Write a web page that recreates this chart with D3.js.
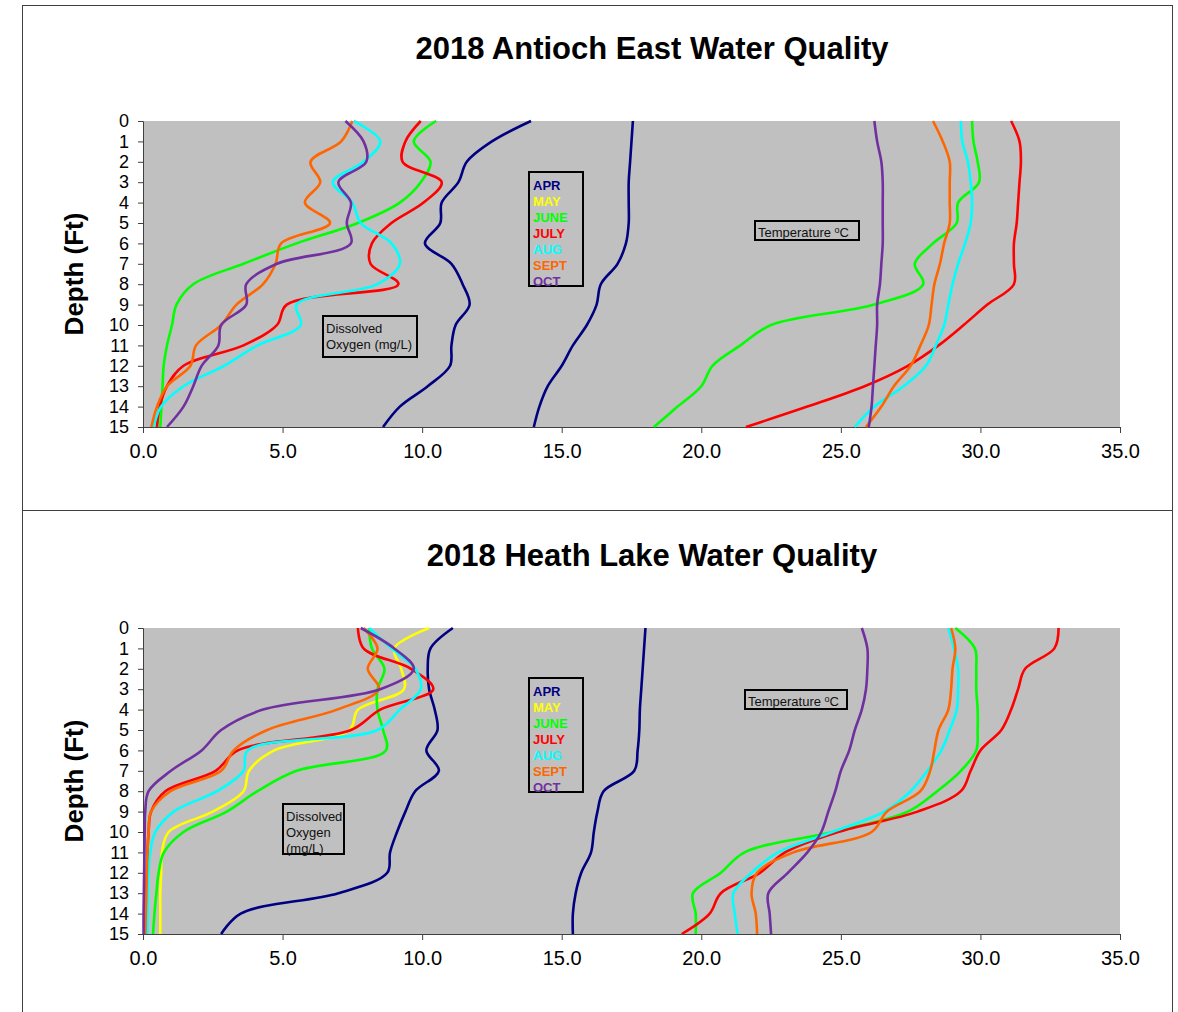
<!DOCTYPE html>
<html>
<head>
<meta charset="utf-8">
<script src="https://cdn.jsdelivr.net/npm/d3@7"></script>
<style>
  body { margin: 0; background: #fff; }
  text { font-family: "Liberation Sans", Arial, sans-serif; }
</style>
</head>
<body>
<div id="chart"></div>
<script>
const depths = [0, 1, 2, 3, 4, 5, 6, 7, 8, 9, 10, 11, 12, 13, 14, 15];
const months = ["APR", "MAY", "JUNE", "JULY", "AUG", "SEPT", "OCT"];
const monthColors = ["#000080", "#FFFF00", "#00FF00", "#FF0000", "#00FFFF", "#FF6600", "#7030A0"];
const xTicks = [0, 5, 10, 15, 20, 25, 30, 35];

// Antioch East - dissolved oxygen (mg/L), depth 0..15 ft
const eastDoApr  = [13.9, 12.5, 11.6, 11.3, 10.7, 10.65, 10.1, 11.05, 11.45, 11.7, 11.2, 11.05, 11.0, 10.2, 9.2, 8.6];
const eastDoJune = [10.5, 9.7, 10.3, 9.95, 9.2, 7.7, 5.5, 3.6, 1.8, 1.2, 1.04, 0.86, 0.74, 0.7, 0.66, 0.62];
const eastDoJuly = [9.95, 9.4, 9.3, 10.7, 10.05, 8.9, 8.2, 8.15, 9.15, 5.15, 4.8, 3.6, 1.45, 0.86, 0.6, 0.5];
const eastDoAug  = [7.55, 8.5, 7.9, 6.8, 7.5, 7.8, 8.9, 9.2, 8.4, 5.5, 5.65, 4.1, 2.9, 1.45, 0.65, 0.38];
const eastDoSept = [7.5, 7.1, 6.0, 6.35, 5.8, 6.7, 4.95, 4.75, 4.3, 3.35, 2.8, 1.9, 1.7, 0.86, 0.5, 0.3];
const eastDoOct  = [7.25, 7.9, 8.0, 7.0, 7.45, 7.3, 7.45, 4.8, 3.7, 3.7, 2.8, 2.7, 2.1, 1.8, 1.45, 0.86];

// Antioch East - temperature (C)
const eastTApr  = [17.55, 17.5, 17.45, 17.4, 17.4, 17.4, 17.3, 17.0, 16.4, 16.25, 15.9, 15.4, 15.0, 14.5, 14.2, 14.0];
const eastTJune = [29.7, 29.75, 29.9, 29.95, 29.2, 29.15, 28.3, 27.65, 27.95, 26.2, 22.5, 21.4, 20.4, 20.0, 19.15, 18.3];
const eastTJuly = [31.1, 31.4, 31.45, 31.4, 31.35, 31.3, 31.2, 31.2, 31.2, 30.25, 29.4, 28.5, 27.4, 25.85, 23.8, 21.6];
const eastTAug  = [29.3, 29.35, 29.55, 29.65, 29.7, 29.65, 29.45, 29.2, 29.0, 28.85, 28.7, 28.4, 28.05, 27.25, 26.2, 25.5];
const eastTSept = [28.3, 28.65, 28.9, 28.9, 28.9, 28.9, 28.7, 28.55, 28.35, 28.25, 28.15, 27.85, 27.5, 26.9, 26.45, 25.9];
const eastTOct  = [26.2, 26.3, 26.45, 26.5, 26.5, 26.5, 26.5, 26.45, 26.4, 26.3, 26.3, 26.25, 26.2, 26.15, 26.1, 26.0];

// Heath Lake - dissolved oxygen (mg/L)
const heathDoApr  = [11.1, 10.3, 10.2, 10.25, 10.45, 10.55, 10.15, 10.6, 9.75, 9.4, 9.1, 8.85, 8.75, 7.0, 3.5, 2.8];
const heathDoMay  = [10.25, 9.0, 9.25, 9.35, 7.7, 7.4, 4.7, 3.8, 3.6, 2.5, 0.92, 0.68, 0.65, 0.62, 0.62, 0.62];
const heathDoJune = [8.1, 8.2, 8.65, 8.4, 8.4, 8.6, 8.7, 5.5, 4.1, 3.0, 1.45, 0.75, 0.56, 0.48, 0.41, 0.36];
const heathDoJuly = [7.7, 7.9, 9.6, 10.4, 8.5, 7.45, 3.4, 2.6, 0.8, 0.29, 0.2, 0.16, 0.14, 0.12, 0.1, 0.08];
const heathDoAug  = [8.1, 8.9, 9.75, 9.95, 9.2, 8.4, 3.75, 3.6, 2.65, 1.1, 0.44, 0.26, 0.2, 0.18, 0.17, 0.16];
const heathDoSept = [7.9, 8.4, 8.05, 8.45, 6.95, 4.45, 3.25, 2.8, 0.98, 0.29, 0.2, 0.16, 0.14, 0.12, 0.1, 0.08];
const heathDoOct  = [7.8, 9.0, 9.7, 8.5, 4.3, 2.8, 2.1, 1.0, 0.2, 0.08, 0.06, 0.05, 0.04, 0.03, 0.02, 0.02];

// Heath Lake - temperature (C)
const heathTApr  = [18.0, 17.95, 17.9, 17.85, 17.8, 17.78, 17.72, 17.6, 16.5, 16.28, 16.15, 16.05, 15.7, 15.5, 15.4, 15.4];
const heathTJune = [29.1, 29.8, 29.85, 29.85, 29.9, 29.9, 29.85, 29.3, 28.45, 27.4, 24.7, 21.55, 20.7, 19.7, 19.8, 19.8];
const heathTJuly = [32.8, 32.65, 31.6, 31.35, 31.1, 30.75, 30.0, 29.65, 29.3, 27.75, 24.9, 23.0, 22.1, 20.7, 20.3, 19.3];
const heathTAug  = [28.85, 29.05, 29.2, 29.2, 29.15, 28.9, 28.6, 28.1, 27.5, 26.55, 24.7, 22.75, 21.8, 21.15, 21.2, 21.3];
const heathTSept = [28.95, 29.1, 29.0, 28.95, 28.85, 28.5, 28.35, 28.2, 27.85, 26.65, 26.1, 23.3, 22.0, 21.8, 21.95, 22.0];
const heathTOct  = [25.75, 25.95, 25.95, 25.9, 25.75, 25.5, 25.3, 25.0, 24.8, 24.55, 24.3, 23.8, 23.1, 22.4, 22.45, 22.5];

const W = 1178, H = 1012;
const svg = d3.select("#chart").append("svg")
    .attr("width", W)
    .attr("height", H);

const panels = [
  {
    title: "2018 Antioch East Water Quality", titleY: 59,
    frameTop: 5, frameBottom: 510, plotTop: 121, plotBottom: 427,
    series: [
      [eastDoApr, 0], [eastDoJune, 2], [eastDoJuly, 3], [eastDoAug, 4], [eastDoSept, 5], [eastDoOct, 6],
      [eastTApr, 0], [eastTJune, 2], [eastTJuly, 3], [eastTAug, 4], [eastTSept, 5], [eastTOct, 6]
    ],
    legend: {x: 529, y: 172},
    temp: {x: 755, y: 221, w: 104},
    doLines: ["Dissolved", "Oxygen (mg/L)"],
    doBox: {x: 323, y: 316, w: 94, h: 41}
  },
  {
    title: "2018 Heath Lake Water Quality", titleY: 566,
    frameTop: 510, frameBottom: 1030, plotTop: 628, plotBottom: 934,
    series: [
      [heathDoApr, 0], [heathDoMay, 1], [heathDoJune, 2], [heathDoJuly, 3], [heathDoAug, 4], [heathDoSept, 5], [heathDoOct, 6],
      [heathTApr, 0], [heathTJune, 2], [heathTJuly, 3], [heathTAug, 4], [heathTSept, 5], [heathTOct, 6]
    ],
    legend: {x: 529, y: 678},
    temp: {x: 745, y: 690, w: 102},
    doLines: ["Dissolved", "Oxygen", "(mg/L)"],
    doBox: {x: 283, y: 804, w: 61, h: 50}
  }
];

const x = d3.scaleLinear().domain([0, 35]).range([143, 1120]);

panels.forEach(p => {
  const g = svg.append("g");

  g.append("rect")
    .attr("x", 22.5).attr("y", p.frameTop + 0.5)
    .attr("width", 1150).attr("height", p.frameBottom - p.frameTop)
    .attr("fill", "none").attr("stroke", "#404040").attr("stroke-width", 1);

  const y = d3.scaleLinear().domain([0, 15]).range([p.plotTop, p.plotBottom]);

  g.append("rect")
    .attr("x", x(0)).attr("y", y(0))
    .attr("width", x(35) - x(0)).attr("height", y(15) - y(0))
    .attr("fill", "#C0C0C0");

  g.append("text")
    .attr("x", 652).attr("y", p.titleY)
    .attr("text-anchor", "middle")
    .style("font-size", "31px").style("font-weight", "bold")
    .text(p.title);

  g.append("text")
    .attr("transform", `translate(83, ${(y(0) + y(15)) / 2}) rotate(-90)`)
    .attr("text-anchor", "middle")
    .style("font-size", "26px").style("font-weight", "bold")
    .text("Depth (Ft)");

  const yAxis = g.append("g")
    .attr("transform", `translate(${x(0)},0)`)
    .call(d3.axisLeft(y).tickValues(depths).tickSize(5).tickPadding(9).tickFormat(d3.format("d")));
  yAxis.selectAll("text").style("font-size", "18px").attr("fill", "#000");
  yAxis.selectAll("line, path").attr("stroke", "#404040");

  const xAxis = g.append("g")
    .attr("transform", `translate(0,${y(15)})`)
    .call(d3.axisBottom(x).tickValues(xTicks).tickSize(6).tickPadding(11).tickFormat(d3.format(".1f")));
  xAxis.selectAll("text").style("font-size", "20px").attr("fill", "#000");
  xAxis.selectAll("line, path").attr("stroke", "#404040");

  const line = d3.line()
    .x(d => x(d[0]))
    .y(d => y(d[1]))
    .curve(d3.curveCatmullRom.alpha(0.5));

  p.series.forEach(([vals, mi]) => {
    g.append("path")
      .datum(vals.map((v, i) => [v, depths[i]]))
      .attr("fill", "none")
      .attr("stroke", monthColors[mi])
      .attr("stroke-width", 2.6)
      .attr("d", line);
  });

  // legend
  g.append("rect")
    .attr("x", p.legend.x).attr("y", p.legend.y)
    .attr("width", 54).attr("height", 114)
    .attr("fill", "none").attr("stroke", "#000").attr("stroke-width", 2);
  months.forEach((m, i) => {
    g.append("text")
      .attr("x", p.legend.x + 4).attr("y", p.legend.y + 18 + i * 16)
      .style("font-size", "13px").style("font-weight", "bold")
      .attr("fill", monthColors[i])
      .text(m);
  });

  // temperature label
  g.append("rect")
    .attr("x", p.temp.x).attr("y", p.temp.y)
    .attr("width", p.temp.w).attr("height", 19)
    .attr("fill", "none").attr("stroke", "#000").attr("stroke-width", 2);
  const tt = g.append("text")
    .attr("x", p.temp.x + 3).attr("y", p.temp.y + 16)
    .style("font-size", "13px").attr("fill", "#111");
  tt.append("tspan").text("Temperature ");
  tt.append("tspan").attr("dy", -4).style("font-size", "9px").text("o");
  tt.append("tspan").attr("dy", 4).text("C");

  // dissolved oxygen label
  g.append("rect")
    .attr("x", p.doBox.x).attr("y", p.doBox.y)
    .attr("width", p.doBox.w).attr("height", p.doBox.h)
    .attr("fill", "none").attr("stroke", "#000").attr("stroke-width", 2);
  p.doLines.forEach((t, i) => {
    g.append("text")
      .attr("x", p.doBox.x + 3).attr("y", p.doBox.y + 17 + i * 16)
      .style("font-size", "13px").attr("fill", "#111")
      .text(t);
  });
});
</script>
</body>
</html>
